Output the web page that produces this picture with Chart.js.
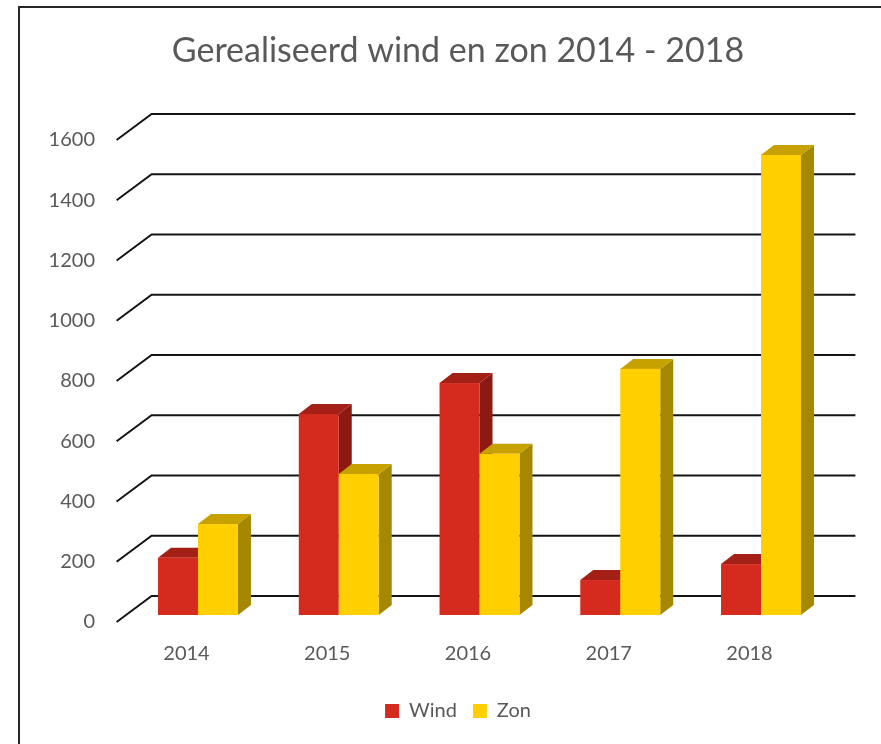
<!DOCTYPE html>
<html>
<head>
<meta charset="utf-8">
<script src="https://cdn.jsdelivr.net/npm/chart.js@4"></script>
<style>
  html, body { margin: 0; padding: 0; background: #fff; }
  #wrap { width: 881px; height: 744px; position: relative; }
</style>
</head>
<body>
<div id="wrap"><canvas id="chart"></canvas></div>
<script>
// data
const years = ['2014', '2015', '2016', '2017', '2018'];
const wind = [190, 667, 770, 116, 169];
const zon = [302, 468, 535, 817, 1527];
const yMin = 0, yMax = 1600, yStep = 200;

const textColor = '#595959';
const font = 'Lato';

// 3D look: depth offset of the bars and walls
const depth = { dx: 13, dy: -10 };
const lift = 7; // bars stand a bit behind the front edge

const faces = [
  { front: '#d52b1e', top: '#a41f16', side: '#8c1a12' },
  { front: '#ffcf00', top: '#c6a100', side: '#a68700' }
];

const fake3d = {
  id: 'fake3d',
  beforeDatasetsDraw(chart) {
    const c = chart.ctx;
    const y = chart.scales.y;
    const a = chart.chartArea;
    c.save();
    // outer frame (only left and top are in view)
    c.strokeStyle = '#262626';
    c.lineWidth = 2;
    c.beginPath();
    c.moveTo(19, 744);
    c.lineTo(19, 7);
    c.lineTo(881, 7);
    c.stroke();
    // grid lines: short diagonal on the side wall, then along the back wall
    c.strokeStyle = '#141414';
    c.lineWidth = 2;
    y.ticks.forEach(t => {
      const py = y.getPixelForValue(t.value);
      c.beginPath();
      c.moveTo(a.left - 11, py);
      c.lineTo(a.left + 24, py - 26);
      c.lineTo(a.right + 24, py - 26);
      c.stroke();
    });
    c.restore();
  },
  // we draw the bars ourselves
  beforeDatasetDraw() {
    return false;
  },
  afterDatasetsDraw(chart) {
    const c = chart.ctx;
    const { dx, dy } = depth;
    c.save();
    years.forEach((_, i) => {
      chart.data.datasets.forEach((ds, d) => {
        const bar = chart.getDatasetMeta(d).data[i];
        const col = faces[d];
        const l = bar.x - bar.width / 2;
        const r = bar.x + bar.width / 2;
        const top = bar.y - lift;
        const base = bar.base - lift;
        // side
        c.fillStyle = col.side;
        c.beginPath();
        c.moveTo(r, top);
        c.lineTo(r + dx, top + dy);
        c.lineTo(r + dx, base + dy);
        c.lineTo(r, base);
        c.closePath();
        c.fill();
        // top
        c.fillStyle = col.top;
        c.beginPath();
        c.moveTo(l, top);
        c.lineTo(l + dx, top + dy);
        c.lineTo(r + dx, top + dy);
        c.lineTo(r, top);
        c.closePath();
        c.fill();
        // front
        c.fillStyle = col.front;
        c.fillRect(l, top, r - l, base - top);
      });
    });
    c.restore();
  }
};

new Chart(document.getElementById('chart'), {
  type: 'bar',
  data: {
    labels: years,
    datasets: [
      { label: 'Wind', data: wind, backgroundColor: faces[0].front },
      { label: 'Zon', data: zon, backgroundColor: faces[1].front }
    ]
  },
  options: {
    responsive: true,
    maintainAspectRatio: false,
    animation: false,
    categoryPercentage: 0.568,
    barPercentage: 1,
    layout: { padding: { left: 39, right: 4, top: 0, bottom: 13 } },
    scales: {
      x: {
        grid: { display: false, drawTicks: false },
        border: { display: false },
        ticks: { color: textColor, font: { family: font, size: 20 }, padding: 20, labelOffset: -11.5 },
        afterFit(scale) { scale.height = 63; }
      },
      y: {
        min: yMin,
        max: yMax,
        grid: { display: false, drawTicks: false },
        border: { display: false },
        ticks: {
          stepSize: yStep,
          color: textColor,
          font: { family: font, size: 20 },
          padding: 32.6,
          callback: v => String(v)
        },
        afterFit(scale) { scale.width = 88.6; }
      },
      // empty right axis, only keeps room for the back wall
      y2: {
        type: 'linear',
        position: 'right',
        min: yMin,
        max: yMax,
        grid: { display: false, drawTicks: false },
        border: { display: false },
        ticks: { display: false },
        afterFit(scale) { scale.width = 45.6; }
      }
    },
    plugins: {
      title: {
        display: true,
        text: 'Gerealiseerd wind en zon 2014 - 2018',
        color: textColor,
        font: { family: font, size: 34, weight: 'normal' },
        padding: { top: 30.6, bottom: 68.6 }
      },
      legend: {
        position: 'bottom',
        labels: { color: textColor, font: { family: font, size: 20 }, boxWidth: 14, boxHeight: 14, padding: 16 }
      },
      tooltip: { enabled: false }
    }
  },
  plugins: [fake3d]
});
</script>
</body>
</html>
